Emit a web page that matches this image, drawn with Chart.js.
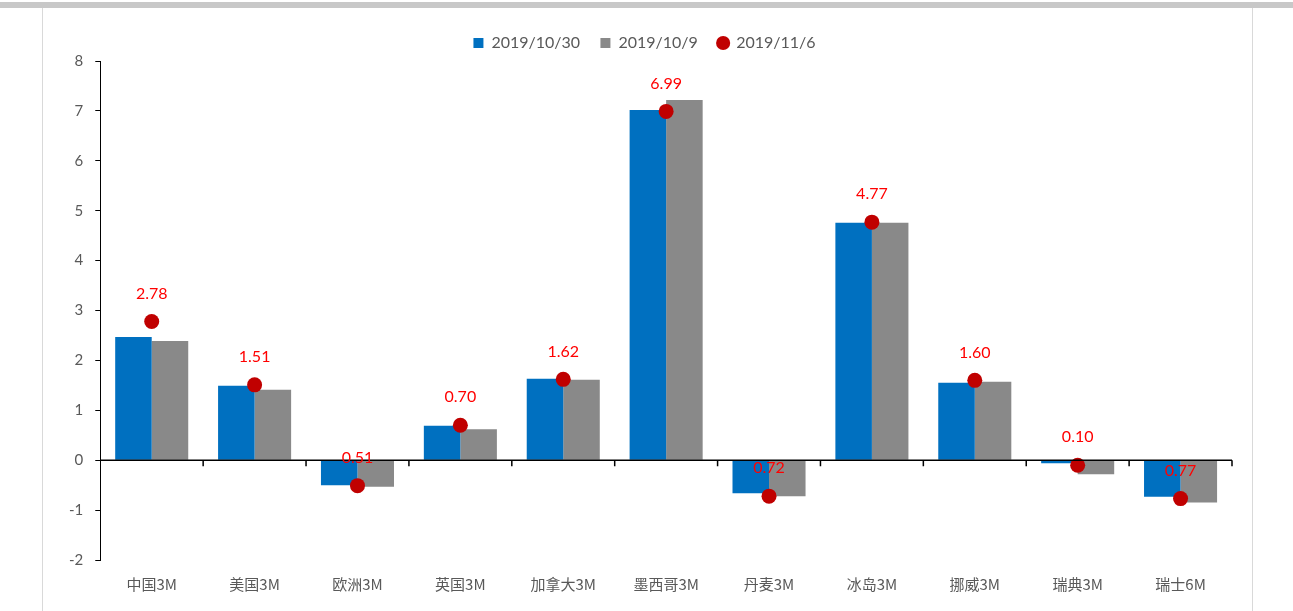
<!DOCTYPE html>
<html>
<head>
<meta charset="utf-8">
<script src="https://cdn.jsdelivr.net/npm/chart.js@4.4.0/dist/chart.umd.min.js"></script>
<style>
  html, body { margin: 0; padding: 0; background: #fff; }
  #marco {
    position: absolute; left: 0; top: 0; width: 1293px; height: 611px;
  }
  #barraSup { position: absolute; left: 0; top: 2px; width: 1293px; height: 6px; background: #c8c8c8; }
  #caja {
    position: absolute; left: 42px; top: 8px; width: 1209px; height: 603px;
    border-left: 1px solid #d9d9d9; border-right: 1px solid #d9d9d9;
  }
  canvas { position: absolute; left: 0; top: 0; }
</style>
</head>
<body>
<div id="marco">
  <div id="barraSup"></div>
  <div id="caja"></div>
  <canvas id="grafico" width="1293" height="611"></canvas>
</div>
<script>
const categorias = ['中国3M', '美国3M', '欧洲3M', '英国3M', '加拿大3M', '墨西哥3M', '丹麦3M', '冰岛3M', '挪威3M', '瑞典3M', '瑞士6M']
const serie1030 = [2.47, 1.49, -0.50, 0.69, 1.63, 7.02, -0.66, 4.76, 1.55, -0.06, -0.73]
const serie109 = [2.39, 1.41, -0.53, 0.62, 1.61, 7.22, -0.72, 4.76, 1.57, -0.28, -0.85]
const serie116 = [2.78, 1.51, -0.51, 0.70, 1.62, 6.99, -0.72, 4.77, 1.60, -0.10, -0.77]
const ticksY = [-2, -1, 0, 1, 2, 3, 4, 5, 6, 7, 8]

const fuenteLatina = 'Lato, "Noto Sans CJK SC", sans-serif'

// linea del cero con marcas entre categorias
const lineaCero = {
  id: 'lineaCero',
  afterDatasetsDraw(chart) {
    const { ctx, chartArea, scales } = chart
    const y0 = scales.y.getPixelForValue(0)
    const paso = scales.x.getPixelForValue(1) - scales.x.getPixelForValue(0)
    ctx.save()
    ctx.strokeStyle = '#000'
    ctx.lineWidth = 1.5
    ctx.beginPath()
    ctx.moveTo(chartArea.left, y0)
    ctx.lineTo(chartArea.right, y0)
    for (let i = 1; i <= categorias.length; i++) {
      const x = scales.x.getPixelForValue(i) - paso / 2
      ctx.moveTo(x, y0)
      ctx.lineTo(x, y0 + 6)
    }
    ctx.stroke()
    ctx.restore()
  }
}

// etiquetas de los puntos
const etiquetas = {
  id: 'etiquetas',
  afterDatasetsDraw(chart) {
    const { ctx } = chart
    const meta = chart.getDatasetMeta(2)
    ctx.save()
    ctx.fillStyle = '#ff0000'
    ctx.font = '16px ' + fuenteLatina
    ctx.textAlign = 'center'
    ctx.textBaseline = 'middle'
    meta.data.forEach((p, i) => {
      ctx.fillText(Math.abs(serie116[i]).toFixed(2), p.x, p.y - 28)
    })
    ctx.restore()
  }
}

new Chart(document.getElementById('grafico').getContext('2d'), {
  type: 'bar',
  data: {
    labels: categorias,
    datasets: [
      {
        label: '2019/10/30',
        data: serie1030,
        backgroundColor: '#0070c0',
        pointStyle: 'rect',
        barPercentage: 1,
        categoryPercentage: 0.71,
        order: 1,
      },
      {
        label: '2019/10/9',
        data: serie109,
        backgroundColor: '#898989',
        pointStyle: 'rect',
        barPercentage: 1,
        categoryPercentage: 0.71,
        order: 1,
      },
      {
        type: 'line',
        label: '2019/11/6',
        data: serie116,
        showLine: false,
        pointStyle: 'circle',
        pointRadius: 7.5,
        pointHoverRadius: 7.5,
        backgroundColor: '#c00000',
        borderColor: '#c00000',
        borderWidth: 0,
        order: 0,
      },
    ],
  },
  options: {
    responsive: false,
    animation: false,
    layout: { padding: { left: 57, right: 61, top: 27, bottom: 11 } },
    plugins: {
      tooltip: { enabled: false },
      legend: {
        position: 'top',
        labels: {
          usePointStyle: true,
          boxWidth: 10,
          boxHeight: 10,
          color: '#595959',
          font: { family: fuenteLatina, size: 16 },
          padding: 8,
          sort: (a, b) => a.datasetIndex - b.datasetIndex,
          generateLabels: (chart) => {
            const items = Chart.defaults.plugins.legend.labels.generateLabels(chart)
            items.forEach(it => { if (it.datasetIndex < 2) it.text = it.text + '   ' })
            return items
          },
        },
      },
    },
    scales: {
      x: {
        grid: { display: false },
        border: { display: false },
        ticks: {
          color: '#595959',
          font: { family: '"Noto Sans CJK SC", sans-serif', size: 15 },
          padding: 7,
          maxRotation: 0,
        },
      },
      y: {
        min: -2,
        max: 8,
        afterBuildTicks: (eje) => { eje.ticks = ticksY.map(v => ({ value: v })) },
        grid: { drawOnChartArea: false, drawTicks: true, tickLength: 5, color: '#000' },
        border: { color: '#000', width: 1 },
        ticks: {
          color: '#595959',
          font: { family: fuenteLatina, size: 15 },
          padding: 12,
        },
      },
    },
  },
  plugins: [lineaCero, etiquetas],
})
</script>
</body>
</html>
